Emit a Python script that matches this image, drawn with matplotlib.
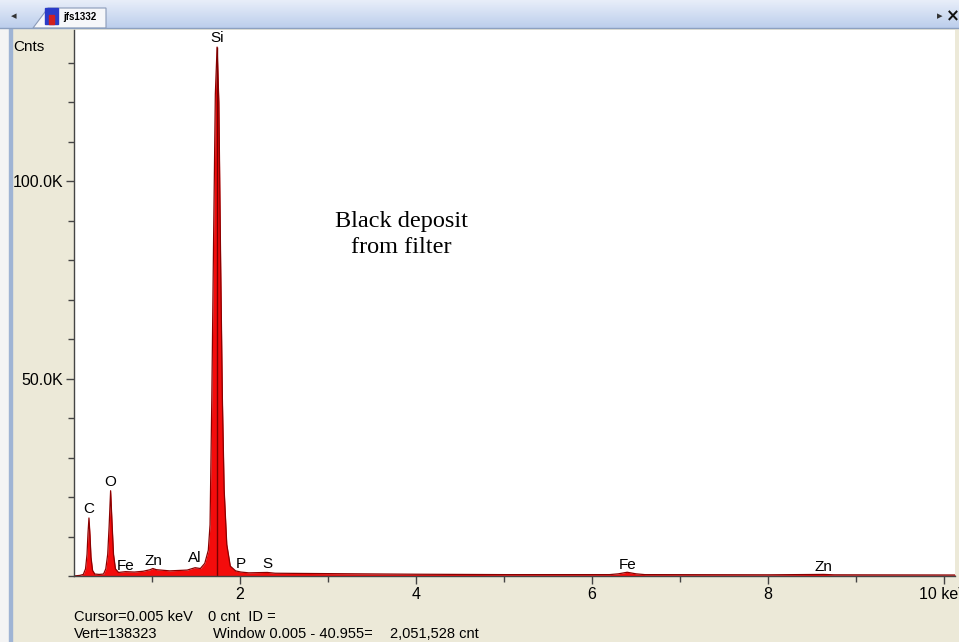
import numpy as np
import matplotlib
matplotlib.use('Agg')
import matplotlib.pyplot as plt
from matplotlib.patches import Rectangle, Polygon
from matplotlib.ticker import MultipleLocator, FixedLocator

plt.rcParams['font.family'] = ['Liberation Sans', 'DejaVu Sans']

# spectrum: energy (keV) and counts
energy = [0.11, 0.18, 0.22, 0.245, 0.262, 0.273, 0.284, 0.296, 0.307, 0.325, 0.35, 0.40,
          0.45, 0.475, 0.497, 0.513, 0.53, 0.547, 0.563, 0.585, 0.62, 0.70, 0.80, 0.90,
          0.98, 1.01, 1.05, 1.20, 1.40, 1.49, 1.55, 1.60, 1.64, 1.66, 1.68, 1.70,
          1.72, 1.74, 1.76, 1.78, 1.80, 1.82, 1.85, 1.89, 1.95, 2.01, 2.10, 2.31,
          2.40, 3.00, 4.00, 5.00, 6.20, 6.30, 6.40, 6.50, 6.60, 8.00, 8.63, 8.75, 10.2]
counts = [0, 150, 400, 1800, 5500, 10800, 14700, 10200, 4800, 1400, 500, 400,
          500, 1800, 5500, 12500, 21600, 13000, 5500, 1800, 900, 1100, 1000, 1200,
          1600, 1900, 1600, 1300, 1500, 2100, 1900, 3200, 6500, 13000, 45000, 85000,
          122000, 134000, 120000, 80000, 45000, 22000, 8000, 2500, 1300, 1000, 800, 900,
          700, 600, 450, 350, 350, 550, 950, 550, 350, 300, 400, 300, 250]

# element markers
elements = ['C', 'O', 'Fe', 'Zn', 'Al', 'Si', 'P', 'S', 'Fe', 'Zn']
line_kev = [0.277, 0.525, 0.705, 1.012, 1.486, 1.740, 2.013, 2.307, 6.400, 8.630]
label_y = [17000, 23900, 2500, 3800, 4600, 136300, 3000, 3000, 2800, 2300]

W, H = 959, 642
fig = plt.figure(figsize=(W / 100, H / 100), dpi=100)
fig.patch.set_facecolor('#ECE9D8')

def fx(x):
    return x / W

def fy(y):
    return 1 - y / H

# window chrome
fig.add_artist(Rectangle((0, 0), fx(9), 1, transform=fig.transFigure,
                         color='#F4F4F4', zorder=0))
fig.add_artist(Rectangle((fx(9), 0), fx(3), 1, transform=fig.transFigure,
                         color='#9FB4D4', zorder=0))
bar = fig.add_axes([0, fy(28), 1, 28 / H])
grad = np.linspace(0, 1, 50).reshape(-1, 1)
bar.imshow(grad, aspect='auto', extent=[0, 1, 0, 1],
           cmap=matplotlib.colors.LinearSegmentedColormap.from_list(
               'tab', ['#BCCEEC', '#E8EEF9']), origin='lower')
bar.axis('off')
bar.set_xlim(0, 1)
bar.set_ylim(0, 1)
fig.add_artist(plt.Line2D([0, 1], [fy(28), fy(28)], transform=fig.transFigure,
                          color='#8CA0C0', lw=1))
tab = Polygon([(fx(33), fy(28)), (fx(48), fy(8)), (fx(106), fy(8)), (fx(106), fy(28))],
              closed=True, transform=fig.transFigure, facecolor='#F6F7FA',
              edgecolor='#8A9AB8', lw=0.8)
fig.add_artist(tab)
fig.add_artist(Rectangle((fx(45), fy(24)), fx(13), 16 / H, transform=fig.transFigure,
                         color='#2A3CC8'))
fig.add_artist(Rectangle((fx(49), fy(24)), fx(5), 9 / H, transform=fig.transFigure,
                         color='#D02020'))
fig.text(fx(63), fy(17), 'jfs1332', fontsize=7, fontweight='bold', va='center')
fig.text(fx(14), fy(16), '\u25C2', fontsize=8, va='center', ha='center', color='#333333',
         family=['DejaVu Sans'])
fig.text(fx(940), fy(16), '\u25B8', fontsize=8, va='center', ha='center', color='#333333',
         family=['DejaVu Sans'])
fig.text(fx(953), fy(16), '\u00D7', fontsize=12, va='center', ha='center', color='#111111',
         fontweight='bold', family=['DejaVu Sans'])

# spectrum axes
ax = fig.add_axes([fx(74), fy(576), (955 - 74) / W, (576 - 30) / H])
ax.set_facecolor('white')
ax.fill_between(energy, counts, 0, color='#F40C0C', lw=0)
ax.plot(energy, counts, color='#8B0000', lw=0.9)
ax.vlines(line_kev[5], 0, max(counts), color='#7A0000', lw=1)
ax.set_xlim(0.114, 10.125)
ax.set_ylim(0, 138323)

for s in ['top', 'right']:
    ax.spines[s].set_visible(False)
for s in ['left', 'bottom']:
    ax.spines[s].set_color('#444444')
    ax.spines[s].set_linewidth(1)

ax.xaxis.set_major_locator(FixedLocator([2, 4, 6, 8, 10]))
ax.set_xticklabels(['2', '4', '6', '8', '10 keV'])
ax.xaxis.set_minor_locator(FixedLocator([1, 3, 5, 7, 9]))
ax.yaxis.set_major_locator(FixedLocator([50000, 100000]))
ax.set_yticklabels(['50.0K', '100.0K'])
ax.yaxis.set_minor_locator(MultipleLocator(10000))
ax.tick_params(which='major', length=6, width=1, color='#444444', labelsize=11.5, pad=2)
ax.tick_params(which='minor', length=4, width=1, color='#444444')

for name, e, yv in zip(elements, line_kev, label_y):
    ax.text(e, yv, name, fontsize=11, ha='center', va='center')

ax.text(0.372, 0.626, 'Black deposit\nfrom filter', transform=ax.transAxes,
        fontsize=17.5, family=['Liberation Serif'], ha='center', va='center',
        linespacing=1.33)

fig.text(fx(13), fy(47), 'Cnts', fontsize=11, va='center')

fig.text(fx(74), fy(617), 'Cursor=0.005 keV', fontsize=10.5, va='center')
fig.text(fx(208), fy(617), '0 cnt  ID =', fontsize=10.5, va='center')
fig.text(fx(74), fy(634), 'Vert=138323', fontsize=10.5, va='center')
fig.text(fx(213), fy(634), 'Window 0.005 - 40.955=', fontsize=10.5, va='center')
fig.text(fx(390), fy(634), '2,051,528 cnt', fontsize=10.5, va='center')

fig.savefig('out.png', dpi=100, facecolor=fig.get_facecolor())
